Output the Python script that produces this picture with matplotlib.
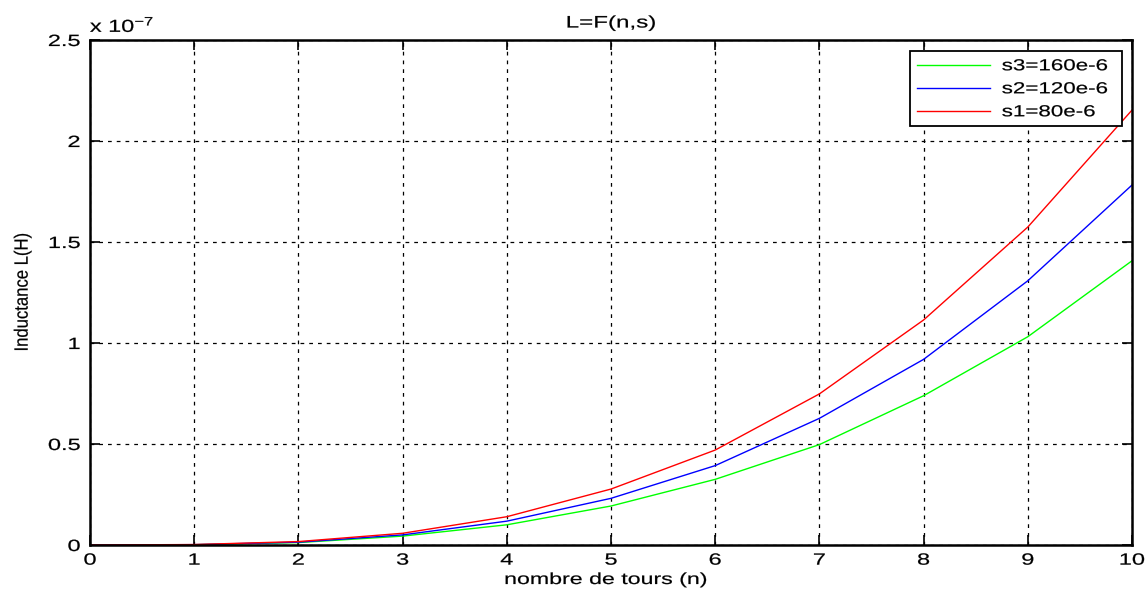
import matplotlib
matplotlib.use("Agg")
import matplotlib.pyplot as plt
from matplotlib.ticker import FuncFormatter, FixedLocator
from matplotlib.patheffects import AbstractPathEffect
from matplotlib.transforms import Affine2D

plt.rcParams['font.family'] = ['Liberation Sans', 'DejaVu Sans']
plt.rcParams['mathtext.fontset'] = 'custom'
plt.rcParams['mathtext.rm'] = 'Liberation Sans'
plt.rcParams['mathtext.it'] = 'Liberation Sans:italic'
plt.rcParams['mathtext.bf'] = 'Liberation Sans:bold'

n = [0, 1, 2, 3, 4, 5, 6, 7, 8, 9, 10]
# Inductance in units of 1e-7 H
L_s3 = [0, 0.0015, 0.012, 0.044, 0.100, 0.193, 0.325, 0.497, 0.739, 1.031, 1.407]
L_s2 = [0, 0.0018, 0.014, 0.050, 0.118, 0.231, 0.393, 0.627, 0.919, 1.308, 1.782]
L_s1 = [0, 0.0022, 0.017, 0.058, 0.140, 0.277, 0.470, 0.748, 1.114, 1.574, 2.153]
labels = ["s3=160e-6", "s2=120e-6", "s1=80e-6"]
xticks = [0, 1, 2, 3, 4, 5, 6, 7, 8, 9, 10]
yticks = [0, 0.5, 1, 1.5, 2, 2.5]


class HStretch(AbstractPathEffect):
    """Widen glyphs horizontally (the reference text is horizontally stretched)."""
    def __init__(self, sx=1.45, anchor='center', stroke=0.15):
        super().__init__()
        self.sx = sx
        self.anchor = anchor
        self.stroke = stroke

    def draw_path(self, renderer, gc, tpath, affine, rgbFace=None):
        ext = affine.transform_path(tpath).get_extents()
        if self.anchor == 'left':
            cx = ext.x0
        elif self.anchor == 'right':
            cx = ext.x1
        else:
            cx = 0.5 * (ext.x0 + ext.x1)
        t = affine + Affine2D().translate(-cx, 0).scale(self.sx, 1).translate(cx, 0)
        gc0 = renderer.new_gc()
        gc0.copy_properties(gc)
        if rgbFace is not None and self.stroke > 0:
            gc0.set_linewidth(self.stroke)
            gc0.set_foreground(rgbFace)
        renderer.draw_path(gc0, tpath, t, rgbFace)
        gc0.restore()


W, H = 1147, 590
fig = plt.figure(figsize=(W / 100, H / 100), dpi=100)
ax = fig.add_axes([90 / W, (H - 545) / H, (1132 - 90) / W, (545 - 40) / H])

ax.plot(n, L_s3, color='#00ff00', lw=1.0, label=labels[0])
ax.plot(n, L_s2, color='#0000ff', lw=1.0, label=labels[1])
ax.plot(n, L_s1, color='#ff0000', lw=1.0, label=labels[2])

ax.set_xlim(0, 10)
ax.set_ylim(0, 2.5)
ax.xaxis.set_major_locator(FixedLocator(xticks))
ax.yaxis.set_major_locator(FixedLocator(yticks))
ax.yaxis.set_major_formatter(FuncFormatter(lambda v, p: f"{v:g}"))
ax.xaxis.set_major_formatter(FuncFormatter(lambda v, p: f"{v:g}"))

ax.grid(True, color='black', linestyle=(0, (3, 4)), lw=0.9)
ax.tick_params(direction='in', length=7, width=1.2, labelsize=11.7, top=True, right=True,
               colors='black')
ax.tick_params(axis='x', pad=5.5)
ax.tick_params(axis='y', pad=7)
for s in ax.spines.values():
    s.set_linewidth(1.8)

title = ax.set_title("L=F(n,s)", fontsize=12, pad=9)
title.set_path_effects([HStretch(1.45, 'center')])
xl = ax.set_xlabel("nombre de tours (n)", fontsize=11.5)
ax.xaxis.set_label_coords(0.5 + (606 - 611) / 1042, (545 - 572) / 505)
xl.set_path_effects([HStretch(1.45, 'center')])
yl = ax.set_ylabel("Inductance L(H)", fontsize=12)
ax.yaxis.set_label_coords((30 - 90) / 1042, 0.5 + (293 - 292.5) / 505)
yl.set_path_effects([HStretch(1.15, 'center')])
off = ax.text(0.0, (545 - 32) / 505, r"x 10$^{-7}$", transform=ax.transAxes, fontsize=12.5,
              ha='left', va='baseline')
off.set_path_effects([HStretch(1.35, 'left')])

leg = ax.legend(loc='upper left', bbox_to_anchor=(0.787, 0.0, 0.203, 0.978),
                mode='expand', borderaxespad=0, fontsize=11.5, handlelength=4.55,
                fancybox=False, edgecolor='black', framealpha=1,
                labelspacing=0.5, borderpad=0.45, handletextpad=0.75)
leg.get_frame().set_linewidth(1.3)
for t in leg.get_texts():
    t.set_path_effects([HStretch(1.40, 'left')])

fig.canvas.draw()
for tk in ax.xaxis.get_major_ticks():
    tk.label1.set_path_effects([HStretch(1.45, 'center')])
for tk in ax.yaxis.get_major_ticks():
    tk.label1.set_path_effects([HStretch(1.45, 'right')])

fig.savefig("out.png", dpi=100)
